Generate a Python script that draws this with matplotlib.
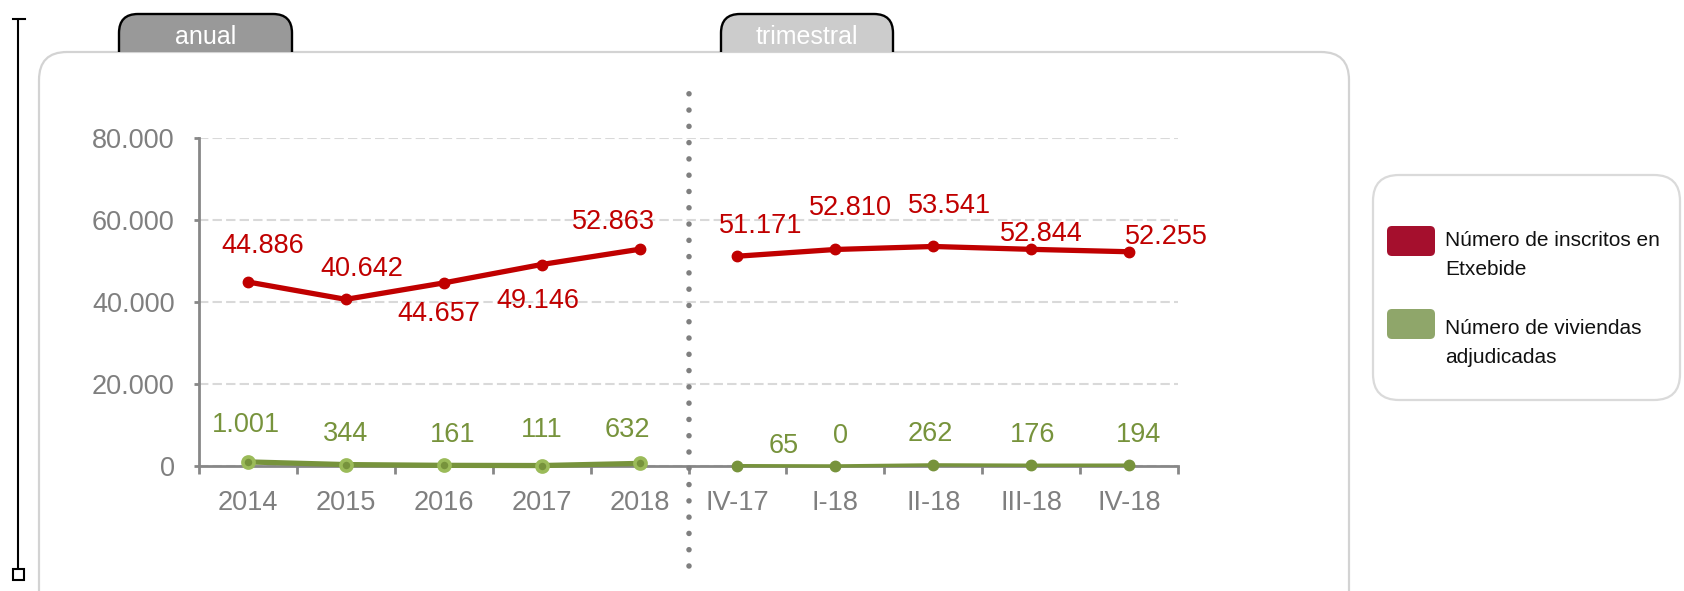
import numpy as np
import matplotlib
matplotlib.use("Agg")
import matplotlib.pyplot as plt
from matplotlib.patches import FancyBboxPatch, Rectangle
from matplotlib.transforms import blended_transform_factory

plt.rcParams['font.family'] = ['Liberation Sans', 'DejaVu Sans']

# ---------------- data ----------------
years = ['2014', '2015', '2016', '2017', '2018']
quarters = ['IV-17', 'I-18', 'II-18', 'III-18', 'IV-18']
inscritos_anual = [44886, 40642, 44657, 49146, 52863]
inscritos_trim = [51171, 52810, 53541, 52844, 52255]
viviendas_anual = [1001, 344, 161, 111, 632]
viviendas_trim = [65, 0, 262, 176, 194]
y_ticks = [0, 20000, 40000, 60000, 80000]
legend_labels = [['Número de inscritos en', 'Etxebide'],
                 ['Número de viviendas', 'adjudicadas']]
tab_labels = ['anual', 'trimestral']

# label offsets (pixels, dx, dy upwards)
off_ins_a = [(15, 36), (16, 30), (-5, -31), (-4, -36), (-26, 27)]
off_ins_t = [(23, 30), (15, 41), (16, 40), (10, 15), (37, 15)]
off_viv_a = [(-2, 37), (0, 31), (9, 30), (0, 36), (-12, 33)]
off_viv_t = [(46, 20), (5, 30), (-3, 31), (1, 30), (9, 30)]

RED = '#C00000'
GREEN = '#77933C'
LGREEN = '#9BBB59'
GRAY = '#7F7F7F'
W, H = 1684, 591
FS = 19.5


def fmt(v):
    return f"{v:,}".replace(',', '.')


fig = plt.figure(figsize=(W / 100, H / 100), dpi=100)
fig.patch.set_facecolor('white')

# overlay in pixel coordinates for decorations
ov = fig.add_axes([0, 0, 1, 1], zorder=0)
ov.set_xlim(0, W)
ov.set_ylim(H, 0)
ov.axis('off')

# main panel
panel = FancyBboxPatch((39, 52), 1310, 580, boxstyle='round,pad=0,rounding_size=28',
                       facecolor='white', edgecolor='#D3D3D3', linewidth=1.6)
ov.add_patch(panel)

# tabs
for (x0, x1, fc, lab) in [(119, 292, '#999999', tab_labels[0]),
                          (721, 893, '#CCCCCC', tab_labels[1])]:
    tab = FancyBboxPatch((x0, 14), x1 - x0, 70, boxstyle='round,pad=0,rounding_size=19',
                         facecolor=fc, edgecolor='black', linewidth=1.7, zorder=3)
    ov.add_patch(tab)
    clip = Rectangle((0, 0), W, 51.5, transform=ov.transData)
    tab.set_clip_path(clip)
    ov.text((x0 + x1) / 2, 37, lab, color='white', fontsize=18, ha='center',
            va='center', zorder=4)

# left bracket
ov.plot([18, 18], [19, 569], color='black', lw=1.5, solid_capstyle='butt')
ov.plot([12.5, 24.5], [19, 19], color='black', lw=1.5)
ov.add_patch(Rectangle((13, 569), 11, 11, facecolor='white', edgecolor='black', lw=1.5))

# legend
leg = FancyBboxPatch((1373, 175), 307, 225, boxstyle='round,pad=0,rounding_size=26',
                     facecolor='white', edgecolor='#DADADA', linewidth=1.6)
ov.add_patch(leg)
for (sy, col, lines, base) in [(226, '#A50F2D', legend_labels[0], 246),
                               (309, '#8FA66A', legend_labels[1], 334)]:
    ov.add_patch(FancyBboxPatch((1387, sy), 48, 30, boxstyle='round,pad=0,rounding_size=5',
                                facecolor=col, edgecolor='none'))
    for k, line in enumerate(lines):
        ov.text(1445, base + 29 * k, line, fontsize=15, color='#111111',
                ha='left', va='baseline')

# main axes
ax = fig.add_axes([199 / W, (H - 466) / H, (1178 - 199) / W, 328 / H], zorder=2)
ax.patch.set_alpha(0)
ax.set_xlim(-0.5, 9.5)
ax.set_ylim(0, 80000)

for s in ['top', 'right']:
    ax.spines[s].set_visible(False)
for s in ['left', 'bottom']:
    ax.spines[s].set_color('#878787')
    ax.spines[s].set_linewidth(2.0)

ax.set_yticks(y_ticks)
ax.set_yticklabels([fmt(v) for v in y_ticks])
ax.tick_params(axis='y', length=3.6, width=2.0, color='#878787', pad=14,
               labelsize=FS, labelcolor=GRAY)

ax.set_xticks(np.arange(-0.5, 10, 1.0))
ax.set_xticklabels([])
ax.set_xticks(np.arange(10), minor=True)
ax.set_xticklabels(years + quarters, minor=True)
ax.tick_params(axis='x', which='major', length=5.8, width=2.0, color='#878787')
ax.tick_params(axis='x', which='minor', length=0, pad=17, labelsize=FS,
               labelcolor=GRAY)

ax.yaxis.grid(True, color='#D9D9D9', linewidth=1.5, linestyle=(0, (4.5, 2)))
ax.set_axisbelow(True)

xa = np.arange(5)
xt = np.arange(5, 10)

ax.plot(xa, inscritos_anual, color=RED, lw=3.8, marker='o', ms=7.5,
        solid_capstyle='round', clip_on=False, zorder=4)
ax.plot(xt, inscritos_trim, color=RED, lw=3.8, marker='o', ms=7.5,
        solid_capstyle='round', clip_on=False, zorder=4)
ax.plot(xa, viviendas_anual, color=GREEN, lw=3.8, marker='o', ms=8, mfc=GREEN,
        mec=LGREEN, mew=2.6, solid_capstyle='round', clip_on=False, zorder=4)
ax.plot(xt, viviendas_trim, color=GREEN, lw=2.5, marker='o', ms=7.5,
        solid_capstyle='round', clip_on=False, zorder=4)

for xs, vals, offs, col in [(xa, inscritos_anual, off_ins_a, RED),
                            (xt, inscritos_trim, off_ins_t, RED),
                            (xa, viviendas_anual, off_viv_a, GREEN),
                            (xt, viviendas_trim, off_viv_t, GREEN)]:
    for x, v, (dx, dy) in zip(xs, vals, offs):
        ax.annotate(fmt(v), (x, v), xytext=(dx, dy), textcoords='offset pixels',
                    ha='center', va='center', fontsize=FS, color=col,
                    annotation_clip=False, zorder=5)

# dotted separator between annual and quarterly
tr = blended_transform_factory(ax.transData, ax.transAxes)
ax.plot([4.5, 4.5], [(466 - 566) / 328, (466 - 83) / 328], transform=tr,
        color=GRAY, lw=4.0, linestyle=(0, (0.001, 2.93)),
        dash_capstyle='round', clip_on=False, zorder=3)

fig.savefig('out.png', dpi=100)
